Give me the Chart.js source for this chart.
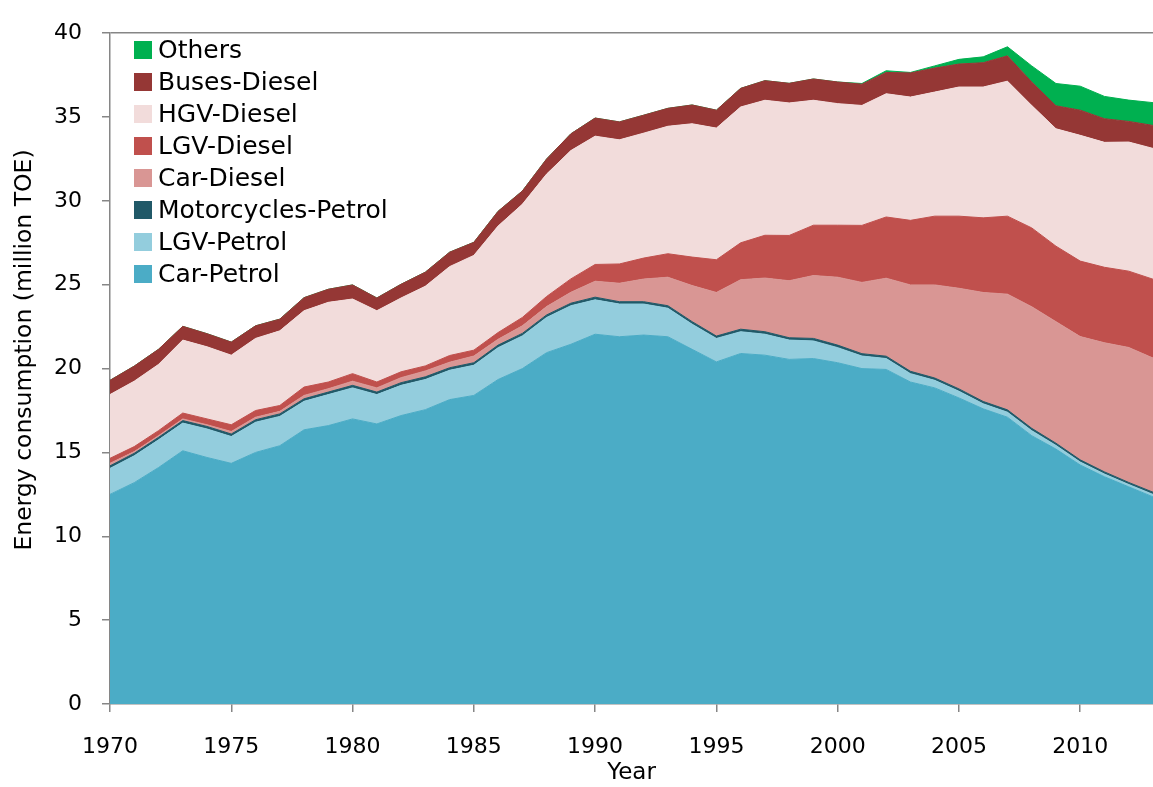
<!DOCTYPE html>
<html>
<head>
<meta charset="utf-8">
<script src="https://cdn.jsdelivr.net/npm/chart.js@4/dist/chart.umd.min.js"></script>
<style>
  body { margin: 0; background: #fff; }
  #wrap { width: 1153px; height: 787px; }
</style>
</head>
<body>
<div id="wrap"><canvas id="energyChart" width="1153" height="787"></canvas></div>
<script>
const years = [1970, 1971, 1972, 1973, 1974, 1975, 1976, 1977, 1978, 1979,
  1980, 1981, 1982, 1983, 1984, 1985, 1986, 1987, 1988, 1989,
  1990, 1991, 1992, 1993, 1994, 1995, 1996, 1997, 1998, 1999,
  2000, 2001, 2002, 2003, 2004, 2005, 2006, 2007, 2008, 2009,
  2010, 2011, 2012, 2013];

const carPetrol = [12.5, 13.2, 14.1, 15.1, 14.7, 14.35, 15.0, 15.4, 16.35, 16.6,
  17.0, 16.7, 17.2, 17.55, 18.15, 18.4, 19.35, 20.0, 20.95, 21.45,
  22.05, 21.9, 22.0, 21.9, 21.15, 20.4, 20.9, 20.8, 20.55, 20.6,
  20.35, 20.0, 19.95, 19.2, 18.85, 18.25, 17.6, 17.1, 16.0, 15.2,
  14.25, 13.55, 12.95, 12.35];

const lgvPetrol = [1.55, 1.6, 1.65, 1.65, 1.7, 1.6, 1.8, 1.75, 1.7, 1.85,
  1.85, 1.75, 1.8, 1.8, 1.75, 1.8, 1.9, 1.95, 2.1, 2.3,
  2.05, 1.95, 1.85, 1.7, 1.5, 1.4, 1.3, 1.25, 1.15, 1.05,
  0.9, 0.75, 0.65, 0.5, 0.45, 0.4, 0.3, 0.3, 0.3, 0.22,
  0.18, 0.16, 0.14, 0.15];

const motorcyclesPetrol = [0.15, 0.15, 0.15, 0.15, 0.15, 0.15, 0.15, 0.15, 0.15, 0.15,
  0.15, 0.15, 0.16, 0.16, 0.15, 0.15, 0.15, 0.15, 0.15, 0.15,
  0.16, 0.14, 0.14, 0.15, 0.15, 0.14, 0.15, 0.15, 0.14, 0.15,
  0.15, 0.14, 0.14, 0.14, 0.14, 0.14, 0.14, 0.14, 0.14, 0.13,
  0.13, 0.13, 0.12, 0.13];

const carDiesel = [0.15, 0.1, 0.1, 0.1, 0.1, 0.15, 0.15, 0.15, 0.2, 0.2,
  0.25, 0.25, 0.3, 0.35, 0.33, 0.4, 0.35, 0.45, 0.5, 0.65,
  0.95, 1.1, 1.35, 1.7, 2.15, 2.6, 2.95, 3.2, 3.4, 3.75,
  4.05, 4.25, 4.65, 5.15, 5.55, 6.0, 6.5, 6.9, 7.25, 7.25,
  7.35, 7.7, 8.05, 8.0];

const lgvDiesel = [0.3, 0.3, 0.3, 0.35, 0.35, 0.4, 0.4, 0.35, 0.5, 0.4,
  0.45, 0.35, 0.35, 0.3, 0.4, 0.35, 0.4, 0.5, 0.6, 0.8,
  1.0, 1.15, 1.25, 1.4, 1.7, 1.95, 2.2, 2.55, 2.7, 3.0,
  3.1, 3.4, 3.65, 3.85, 4.1, 4.3, 4.45, 4.65, 4.7, 4.5,
  4.5, 4.5, 4.55, 4.7];

const hgvDiesel = [3.8, 3.9, 3.95, 4.35, 4.3, 4.15, 4.3, 4.45, 4.55, 4.75,
  4.45, 4.25, 4.4, 4.75, 5.3, 5.65, 6.35, 6.75, 7.3, 7.65,
  7.65, 7.4, 7.45, 7.6, 7.95, 7.85, 8.1, 8.05, 7.9, 7.45,
  7.25, 7.15, 7.35, 7.35, 7.4, 7.7, 7.8, 8.05, 7.3, 7.0,
  7.5, 7.45, 7.7, 7.8];

const busesDiesel = [0.85, 0.9, 0.9, 0.82, 0.78, 0.78, 0.75, 0.7, 0.78, 0.78,
  0.84, 0.76, 0.82, 0.84, 0.86, 0.78, 0.88, 0.79, 0.9, 1.0,
  1.08, 1.07, 1.07, 1.07, 1.12, 1.07, 1.11, 1.17, 1.17, 1.27,
  1.29, 1.27, 1.27, 1.44, 1.43, 1.37, 1.45, 1.51, 1.4, 1.37,
  1.5, 1.41, 1.23, 1.37];

const others = [0, 0, 0, 0, 0, 0, 0, 0, 0, 0,
  0, 0, 0, 0, 0, 0, 0, 0, 0, 0,
  0, 0, 0, 0, 0, 0, 0, 0, 0, 0,
  0, 0.04, 0.1, 0.03, 0.13, 0.28, 0.35, 0.54, 0.96, 1.33,
  1.43, 1.33, 1.27, 1.36];

const yTicks = [0, 5, 10, 15, 20, 25, 30, 35, 40];
const yTitle = "Energy consumption (million TOE)";

const axisGrey = "#868686";
const font = "'DejaVu Sans', sans-serif";

function area(label, data, color, fill) {
  return {
    label: label,
    data: data,
    backgroundColor: color,
    borderColor: color,
    borderWidth: 1,
    pointRadius: 0,
    tension: 0,
    fill: fill
  };
}

// legend inside the plot (last series first) and the rotated y title
const insideLegend = {
  id: "insideLegend",
  afterDraw(chart) {
    const ctx = chart.ctx;
    const sets = chart.data.datasets.slice().reverse();
    ctx.save();
    ctx.font = "25px " + font;
    ctx.textBaseline = "middle";
    sets.forEach((ds, i) => {
      const y = 41 + i * 32;
      ctx.fillStyle = ds.backgroundColor;
      ctx.fillRect(134, y, 18, 18);
      ctx.fillStyle = "#000";
      ctx.fillText(ds.label, 158, y + 10);
    });

    ctx.translate(25, 350);
    ctx.rotate(-Math.PI / 2);
    ctx.font = "23.5px " + font;
    ctx.textAlign = "center";
    ctx.fillText(yTitle, 0, 0);
    ctx.restore();
  }
};

new Chart(document.getElementById("energyChart"), {
  type: "line",
  data: {
    labels: years,
    datasets: [
      area("Car-Petrol", carPetrol, "#4BACC6", "origin"),
      area("LGV-Petrol", lgvPetrol, "#93CDDD", "-1"),
      area("Motorcycles-Petrol", motorcyclesPetrol, "#215968", "-1"),
      area("Car-Diesel", carDiesel, "#D99694", "-1"),
      area("LGV-Diesel", lgvDiesel, "#C0504D", "-1"),
      area("HGV-Diesel", hgvDiesel, "#F2DCDB", "-1"),
      area("Buses-Diesel", busesDiesel, "#953735", "-1"),
      area("Others", others, "#00B050", "-1")
    ]
  },
  options: {
    responsive: false,
    animation: false,
    layout: { padding: { top: 22, right: 0, left: 0, bottom: 0 } },
    plugins: {
      legend: { display: false },
      tooltip: { enabled: false }
    },
    scales: {
      x: {
        type: "linear",
        min: 1970,
        max: 2013,
        afterFit: s => { s.height = 83; },
        border: { color: axisGrey, width: 1.5 },
        grid: { drawOnChartArea: false, color: axisGrey, tickLength: 8, lineWidth: 1.5 },
        ticks: {
          stepSize: 5,
          includeBounds: false,
          padding: 22,
          color: "#000",
          font: { family: font, size: 22 },
          callback: v => String(v)
        },
        title: {
          display: true,
          text: "Year",
          color: "#000",
          padding: { top: -8, bottom: 0 },
          font: { family: font, size: 23 }
        }
      },
      y: {
        stacked: true,
        min: 0,
        max: 40,
        afterFit: s => { s.width = 110; },
        afterBuildTicks: s => { s.ticks = yTicks.map(v => ({ value: v })); },
        border: { color: axisGrey, width: 1.5 },
        grid: {
          drawOnChartArea: true,
          color: c => (c.tick && c.tick.value === 40 ? axisGrey : "rgba(0,0,0,0)"),
          tickColor: axisGrey,
          tickLength: 8,
          lineWidth: 1.5
        },
        ticks: {
          padding: 20,
          color: "#000",
          font: { family: font, size: 22 }
        },
        title: { display: false }
      }
    }
  },
  plugins: [insideLegend]
});
</script>
</body>
</html>
